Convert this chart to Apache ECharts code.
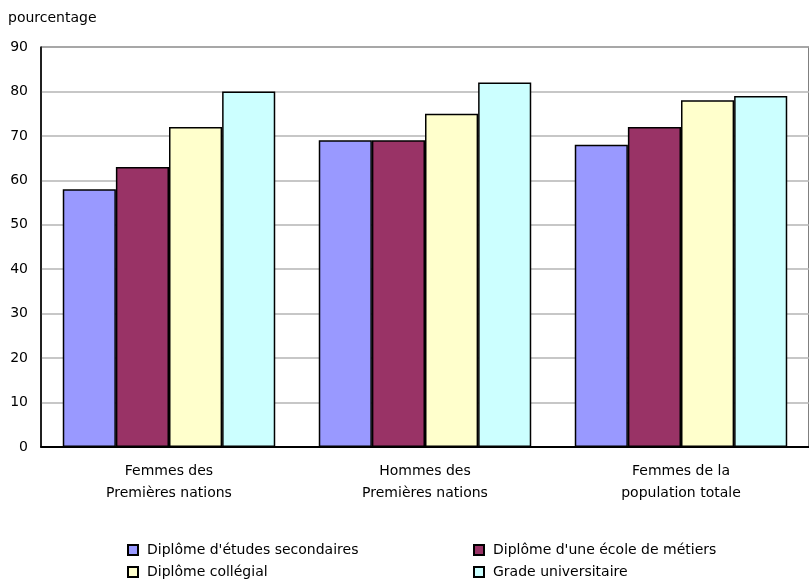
<!DOCTYPE html>
<html>
<head>
<meta charset="utf-8">
<script src="https://cdn.jsdelivr.net/npm/echarts@6/dist/echarts.min.js"></script>
<style>
  html, body { margin: 0; padding: 0; background: #fff; }
  #chart { width: 809px; height: 579px; }
</style>
</head>
<body>
<div id="chart"></div>
<script>
// Groupes de population
const categories = ['Femmes des\nPremières nations', 'Hommes des\nPremières nations', 'Femmes de la\npopulation totale'];

// Taux d'emploi (%) selon le plus haut niveau de scolarité
const secondaires = [58, 69, 68];
const metiers = [63, 69, 72];
const collegial = [72, 75, 78];
const universitaire = [80, 82, 79];

const seriesNames = [
  "Diplôme d'études secondaires",
  "Diplôme d'une école de métiers",
  'Diplôme collégial',
  'Grade universitaire'
];
const seriesColors = ['#9999ff', '#993366', '#ffffcc', '#ccffff'];
const yTicks = [0, 10, 20, 30, 40, 50, 60, 70, 80, 90];

const font = 'DejaVu Sans, Verdana, sans-serif';
const chart = echarts.init(document.getElementById('chart'));

const values = [secondaires, metiers, collegial, universitaire];
const series = values.map((v, i) => ({
  name: seriesNames[i],
  type: 'bar',
  data: v,
  barGap: '0%',
  barCategoryGap: '17%',
  itemStyle: { color: seriesColors[i], borderColor: '#000', borderWidth: 1.5 },
  emphasis: { disabled: true }
}));

const legendBase = {
  orient: 'vertical',
  top: 542,
  height: 60,
  padding: 0,
  itemWidth: 10,
  itemHeight: 10,
  itemGap: 6,
  icon: 'rect',
  selectedMode: false,
  textStyle: { fontFamily: font, fontSize: 14, color: '#000', lineHeight: 16, padding: [0, 0, 0, 4] }
};

chart.setOption({
  animation: false,
  textStyle: { fontFamily: font },
  grid: {
    left: 41, top: 47, width: 771, height: 400,
    show: true, borderColor: '#000', borderWidth: 1, backgroundColor: 'transparent'
  },
  title: {
    text: 'pourcentage',
    left: 3, top: 6,
    textStyle: { fontFamily: font, fontSize: 14, fontWeight: 'normal', color: '#000' }
  },
  legend: [
    Object.assign({}, legendBase, { left: 127, data: [seriesNames[0], seriesNames[2]] }),
    Object.assign({}, legendBase, { left: 473, data: [seriesNames[1], seriesNames[3]] })
  ],
  xAxis: {
    type: 'category',
    data: categories,
    axisLine: { lineStyle: { color: '#000', width: 2 } },
    axisTick: { show: false },
    axisLabel: { fontSize: 14, color: '#000', lineHeight: 22, margin: 13, fontFamily: font }
  },
  yAxis: {
    type: 'value',
    min: yTicks[0],
    max: yTicks[yTicks.length - 1],
    interval: 10,
    axisLine: { show: true, lineStyle: { color: '#000', width: 1.5 } },
    axisTick: { show: false },
    axisLabel: { fontSize: 14, color: '#000', margin: 13, fontFamily: font },
    splitLine: { lineStyle: { color: '#b4b4b4', width: 1.5 } }
  },
  series: series
});
</script>
</body>
</html>
